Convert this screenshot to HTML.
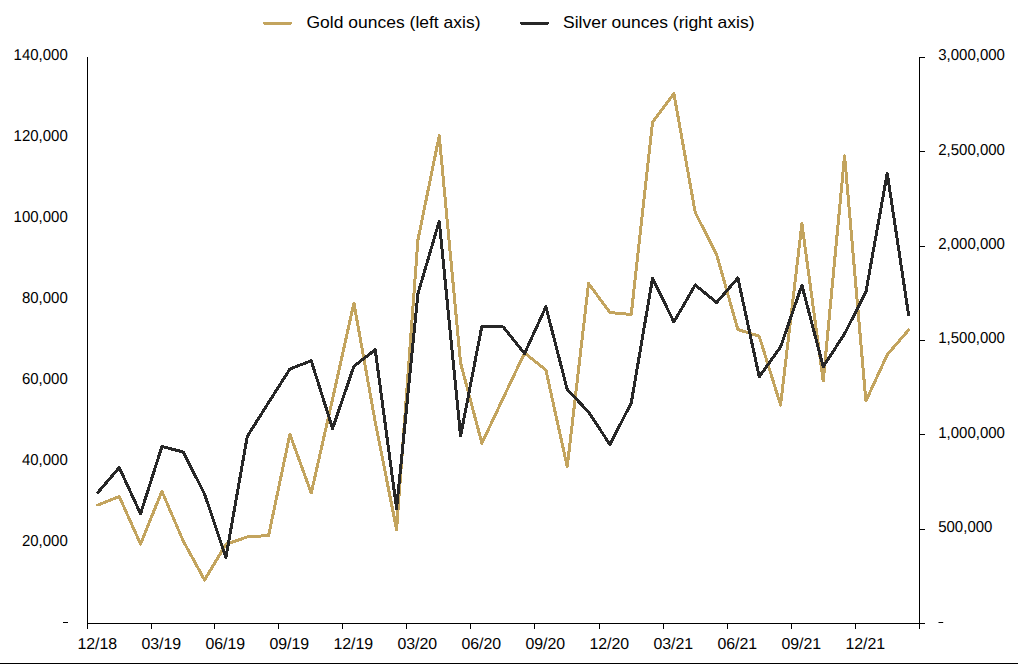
<!DOCTYPE html>
<html><head><meta charset="utf-8"><title>Gold and silver ounces</title>
<style>html,body{margin:0;padding:0;background:#fff}svg{display:block}text{font-family:"Liberation Sans",sans-serif;fill:#000}</style></head><body>
<svg width="1018" height="664" viewBox="0 0 1018 664">
<rect x="0" y="0" width="1018" height="664" fill="#fff"/>
<rect x="0" y="663" width="1018" height="1" fill="#000"/>
<g fill="#000" shape-rendering="crispEdges">
<rect x="87" y="57" width="1" height="572"/>
<rect x="87" y="623" width="838" height="1"/>
<rect x="919" y="57" width="1" height="572"/>
<rect x="151" y="623" width="1" height="6"/>
<rect x="214" y="623" width="1" height="6"/>
<rect x="278" y="623" width="1" height="6"/>
<rect x="342" y="623" width="1" height="6"/>
<rect x="406" y="623" width="1" height="6"/>
<rect x="470" y="623" width="1" height="6"/>
<rect x="534" y="623" width="1" height="6"/>
<rect x="599" y="623" width="1" height="6"/>
<rect x="663" y="623" width="1" height="6"/>
<rect x="727" y="623" width="1" height="6"/>
<rect x="791" y="623" width="1" height="6"/>
<rect x="855" y="623" width="1" height="6"/>
<rect x="919" y="529" width="6" height="1"/>
<rect x="919" y="434" width="6" height="1"/>
<rect x="919" y="340" width="6" height="1"/>
<rect x="919" y="246" width="6" height="1"/>
<rect x="919" y="151" width="6" height="1"/>
<rect x="919" y="57" width="6" height="1"/>
</g>
<polyline fill="none" stroke="#C3A45E" stroke-width="3" stroke-linejoin="round" stroke-linecap="round" shape-rendering="crispEdges" points="97.90,505.00 119.23,496.50 140.57,544.00 161.90,491.25 183.23,541.00 204.57,580.00 225.90,544.25 247.23,537.00 268.57,535.50 289.90,434.25 311.23,493.00 332.57,399.00 353.90,303.00 375.23,422.00 396.57,529.50 417.90,240.00 439.23,135.75 460.57,363.00 481.90,443.25 503.23,398.00 524.57,353.00 545.90,370.00 567.23,466.75 588.57,283.50 609.90,312.50 631.23,314.50 652.57,122.00 673.90,93.75 695.23,212.50 716.57,254.50 737.90,329.50 759.23,336.25 780.57,405.00 801.90,223.75 823.23,381.00 844.57,155.75 865.90,401.00 887.23,354.75 908.57,330.00"/>
<polyline fill="none" stroke="#272727" stroke-width="3" stroke-linejoin="round" stroke-linecap="round" shape-rendering="crispEdges" points="97.90,492.50 119.23,467.50 140.57,513.75 161.90,446.50 183.23,452.00 204.57,494.00 225.90,557.50 247.23,436.50 268.57,402.50 289.90,369.00 311.23,360.75 332.57,428.50 353.90,366.25 375.23,349.75 396.57,508.50 417.90,293.75 439.23,221.25 460.57,436.00 481.90,326.00 503.23,327.00 524.57,353.50 545.90,306.75 567.23,389.50 588.57,412.00 609.90,444.50 631.23,403.00 652.57,278.25 673.90,322.00 695.23,285.00 716.57,302.50 737.90,278.00 759.23,376.75 780.57,347.00 801.90,285.25 823.23,366.75 844.57,333.75 865.90,292.00 887.23,173.25 908.57,314.75"/>
<g text-rendering="geometricPrecision" font-size="15.8" text-anchor="end">
<text transform="translate(67.8,60.4) scale(0.949,1)">140,000</text>
<text transform="translate(67.8,141.3) scale(0.949,1)">120,000</text>
<text transform="translate(67.8,222.3) scale(0.949,1)">100,000</text>
<text transform="translate(67.8,303.2) scale(0.949,1)">80,000</text>
<text transform="translate(67.8,384.1) scale(0.949,1)">60,000</text>
<text transform="translate(67.8,465.1) scale(0.949,1)">40,000</text>
<text transform="translate(67.8,546.0) scale(0.949,1)">20,000</text>
</g>
<rect x="63" y="622" width="5" height="1" fill="#000" shape-rendering="crispEdges"/>
<g text-rendering="geometricPrecision" font-size="15.8" text-anchor="start">
<text transform="translate(938.2,60.4) scale(0.949,1)">3,000,000</text>
<text transform="translate(938.2,154.8) scale(0.949,1)">2,500,000</text>
<text transform="translate(938.2,249.1) scale(0.949,1)">2,000,000</text>
<text transform="translate(938.2,343.4) scale(0.949,1)">1,500,000</text>
<text transform="translate(938.2,437.8) scale(0.949,1)">1,000,000</text>
<text transform="translate(938.2,532.1) scale(0.949,1)">500,000</text>
</g>
<rect x="938.5" y="622" width="4.7" height="1" fill="#000"/>
<g text-rendering="geometricPrecision" font-size="15.8" text-anchor="middle">
<text transform="translate(97.3,649.2) scale(1.008,1)">12/18</text>
<text transform="translate(161.3,649.2) scale(1.008,1)">03/19</text>
<text transform="translate(225.3,649.2) scale(1.008,1)">06/19</text>
<text transform="translate(289.3,649.2) scale(1.008,1)">09/19</text>
<text transform="translate(353.3,649.2) scale(1.008,1)">12/19</text>
<text transform="translate(417.3,649.2) scale(1.008,1)">03/20</text>
<text transform="translate(481.3,649.2) scale(1.008,1)">06/20</text>
<text transform="translate(545.3,649.2) scale(1.008,1)">09/20</text>
<text transform="translate(609.3,649.2) scale(1.008,1)">12/20</text>
<text transform="translate(673.3,649.2) scale(1.008,1)">03/21</text>
<text transform="translate(737.3,649.2) scale(1.008,1)">06/21</text>
<text transform="translate(801.3,649.2) scale(1.008,1)">09/21</text>
<text transform="translate(865.3,649.2) scale(1.008,1)">12/21</text>
</g>
<g shape-rendering="crispEdges" fill="#C3A45E"><rect x="263" y="22" width="29" height="2"/><rect x="264" y="24" width="27" height="1"/></g>
<g shape-rendering="crispEdges" fill="#272727"><rect x="520" y="22" width="29" height="2"/><rect x="521" y="24" width="27" height="1"/></g>
<text x="306.5" y="27.6" font-size="17" textLength="174" lengthAdjust="spacingAndGlyphs">Gold ounces (left axis)</text>
<text x="563" y="27.6" font-size="17" textLength="191.5" lengthAdjust="spacingAndGlyphs">Silver ounces (right axis)</text>
</svg></body></html>
